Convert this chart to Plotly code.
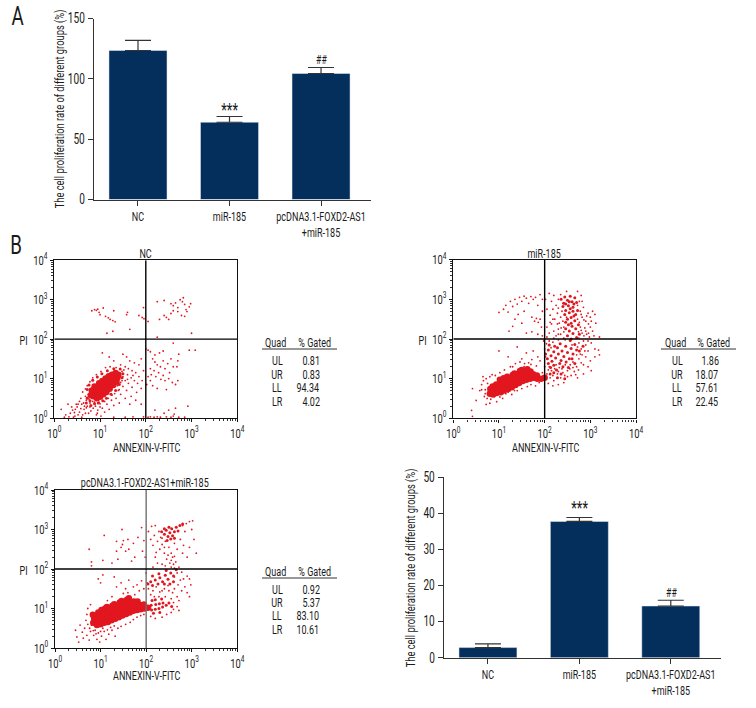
import plotly.graph_objects as go

W, H = 756, 708
NAVY = '#042e5c'
RED = '#e2161f'
FONT = 'Roboto'

GROUPS = ['NC', 'miR-185', 'pcDNA3.1-FOXD2-AS1<br>+miR-185']
PROLIF_A = [123.5, 64, 104.4]
PROLIF_A_ERR = [8.3, 4.8, 5.0]
PROLIF_B = [2.8, 37.7, 14.3]
PROLIF_B_ERR = [1.0, 1.1, 1.6]

TABLE_LABELS = ['UL', 'UR', 'LL', 'LR']
TABLE_NC = ['0.81', '0.83', '94.34', '4.02']
TABLE_MIR = ['1.86', '18.07', '57.61', '22.45']
TABLE_PC = ['0.92', '5.37', '83.10', '10.61']

# flow points, log10 of (annexin, PI), read by eye
# sparse = single dots, mid = loose clouds, core = the solid blobs
NC_SPARSE = [(0.82,2.72),(0.88,2.75),(0.92,2.73),(0.95,2.76),(0.98,2.68),(1.0,2.62),(1.07,2.79),(1.12,2.58),(1.18,2.54),(1.22,2.5),(1.28,2.47),(1.33,2.44),(1.3,2.72),(1.58,2.62),(1.6,2.68),(1.85,2.6),(1.92,2.55),(1.95,2.8),(1.96,2.52),(1.15,2.15),(1.28,2.2),(1.65,2.25),
(2.25,2.95),(2.4,2.98),(2.55,2.9),(2.6,2.85),(2.65,2.92),(2.7,2.8),(2.75,3.0),(2.8,2.95),(2.82,3.05),(2.85,2.88),(2.88,2.75),(2.9,2.7),(2.95,2.82),(2.98,2.9),(2.7,2.7),(2.6,2.72),(2.55,2.65),(2.5,2.5),(2.45,2.55),(2.4,2.6),(2.3,2.5),(2.78,2.6),(2.85,2.58),(3.0,2.15),(2.25,2.05),(2.05,2.45),
(2.0,1.75),(2.05,1.72),(2.1,1.68),(2.2,1.6),(2.3,1.65),(2.38,1.7),(2.6,1.9),(2.95,1.72),(3.08,1.72),(2.72,1.62),(2.7,1.45),(2.68,1.3),(2.15,1.5),(2.2,1.42),(2.25,1.35),(2.32,1.3),(2.38,1.45),(2.42,1.25),(2.48,1.38),(2.52,1.15),(2.55,1.5),(2.6,1.3),(2.1,1.25),(2.12,1.1),(2.18,1.2),(2.22,1.05),(2.28,1.15),(2.33,0.98),(2.38,1.08),(2.42,0.95),(2.5,1.0),(2.58,0.9),(2.65,0.85),(2.1,0.95),(2.15,0.82),(2.25,0.75),(2.45,0.72),(2.7,0.95),(2.05,1.05),(2.02,0.85),
(2.05,0.02),(2.1,0.03),(2.18,0.02),(2.25,0.03),(2.32,0.02),(2.45,0.03),(2.55,0.02),(2.62,0.1),(2.65,0.25),(2.72,0.02),(2.5,0.2),(2.6,0.05),(2.85,0.02),(2.92,0.3),(2.2,0.2),(2.4,0.12),
(1.05,1.65),(1.2,1.55),(1.3,1.45),(1.5,1.62),(1.58,1.55),(1.65,1.45),(1.75,1.4),(1.85,1.35),(1.9,1.5),(1.95,1.2),(1.45,1.35),(1.55,1.3),(1.62,1.25),(1.7,1.2),(1.78,1.15),(1.85,1.05),(1.92,0.95),(1.6,1.1),(1.68,1.02),(1.75,0.95),(1.82,0.88),(1.9,0.75),(1.5,1.05),(1.55,0.95),(1.62,0.88),(1.7,0.78),(1.8,0.65),(1.45,0.9),(1.5,0.8),(1.58,0.7),(1.68,0.55),(1.78,0.45),(1.9,0.35),(1.4,0.7),(1.45,0.6),(1.55,0.5),(1.65,0.35),(1.35,0.5),(1.42,0.38),(1.25,0.45),(1.3,0.32),(1.15,0.35),(1.2,0.22),(1.05,0.25),(1.1,0.15),(0.95,0.2),
(0.15,0.22),(0.3,0.35),(0.35,0.12),(0.4,0.2),(0.45,0.05),(0.5,0.28),(0.55,0.15),(0.6,0.35),(0.62,0.08),(0.65,0.22),(0.7,0.45),(0.72,0.3),(0.75,0.12),(0.78,0.38),(0.82,0.5),(0.85,0.25),(0.88,0.4),(0.92,0.08),(0.55,0.42),(0.48,0.35),(0.42,0.02),(0.32,0.03),(0.25,0.08),(0.22,0.02),(0.6,0.02),(0.68,0.55),(0.74,0.6),(0.8,0.65),(0.86,0.72),(0.58,0.5),(0.98,0.4),(1.02,0.05),(1.3,0.02),(1.55,0.02),(1.72,0.03),(1.95,0.03),
(0.38,0.28),(0.44,0.14),(0.52,0.08),(0.58,0.24),(0.64,0.38),(0.68,0.12),(0.7,0.26),(0.76,0.48),(0.8,0.18),(0.84,0.42),(0.9,0.3),(0.94,0.12),(1.0,0.28),(0.66,0.3),(0.72,0.52),(0.78,0.28),(0.52,0.35),(0.46,0.22),(1.48,1.18),(1.52,1.22),(1.42,1.05),(1.6,0.98),(1.72,1.08),(1.48,0.95),(1.38,0.82),(1.42,0.72),(1.32,0.62),(1.26,0.58),(1.18,0.5),(1.1,0.42),(1.0,0.36),(0.62,0.66),(0.68,0.74),(0.72,0.82),(0.78,0.92),(0.84,1.02),(0.92,1.1),(1.02,1.18),(1.12,1.28),(1.22,1.3),(1.35,1.28)]
NC_MID = [(0.72,0.5),(0.7,0.38),(0.78,0.44),(0.8,0.32),(0.88,0.36),(0.96,0.38),(1.06,0.44),(1.14,0.5),(1.24,0.6),(1.34,0.7),(1.42,0.85),(1.48,1.02),(1.5,1.12),(1.44,1.24),(1.3,1.25),(1.16,1.2),(1.04,1.12),(0.94,1.04),(0.84,0.96),(0.76,0.84),(0.72,0.72)]
NC_CORE = [(0.8,0.58),(0.82,0.7),(0.86,0.55),(0.88,0.8),(0.9,0.66),(0.93,0.5),(0.95,0.6),(0.96,0.76),(0.98,0.88),(1.0,0.54),(1.02,0.66),(1.03,0.82),(1.05,0.94),(1.07,0.6),(1.09,0.72),(1.1,0.88),(1.12,1.0),(1.14,0.66),(1.16,0.78),(1.17,0.94),(1.19,1.06),(1.21,0.74),(1.23,0.86),(1.24,1.0),(1.26,1.1),(1.29,0.84),(1.3,0.96),(1.32,1.06),(1.34,1.14),(1.36,0.92),(1.38,1.02),(1.4,1.1)]

MIR_SPARSE = [(1.0,2.67),(1.1,2.75),(1.15,2.85),(1.2,2.68),(1.25,2.95),(1.3,2.82),(1.35,3.0),(1.4,2.88),(1.45,3.05),(1.5,2.95),(1.55,3.08),(1.6,3.03),(1.65,2.9),(1.7,3.07),(1.75,3.0),(1.8,3.05),(1.85,2.85),(1.9,3.12),(1.95,3.0),(1.42,2.62),(1.35,2.5),(1.3,2.32),(1.22,2.2),(1.5,2.4),(1.55,2.7),(1.72,2.55),(1.78,2.45),(1.82,2.52),(1.86,2.42),(1.9,2.5),(1.93,2.3),(1.95,2.7),(1.6,2.15),(1.72,2.18),(1.85,2.12),(1.95,2.08),
(2.02,3.0),(2.1,3.15),(2.15,2.95),(2.2,3.1),(2.25,2.85),(2.3,3.0),(2.35,3.12),(2.4,2.9),(2.48,3.2),(2.72,3.2),(2.8,3.1),(2.82,2.95),(2.05,2.75),(2.12,2.6),(2.18,2.75),(2.22,2.5),(2.28,2.65),(2.32,2.4),(2.38,2.7),(2.42,2.3),(2.48,2.55),(2.78,2.7),(2.82,2.55),(2.85,2.8),(2.9,2.45),(2.95,2.65),(3.0,2.55),(3.05,2.7),(3.1,2.62),(3.12,2.4),(3.0,2.3),(3.05,2.2),(3.08,2.08),(3.2,2.05),(2.05,2.3),(2.1,2.15),(2.15,2.38),(2.2,2.2),(2.25,2.08),(2.3,2.25),(2.35,2.12),(2.42,2.02),(2.78,2.3),(2.82,2.15),(2.88,2.28),(2.92,2.12),(2.98,2.05),(2.75,2.02),(2.05,2.05),
(2.72,2.5),(2.76,2.42),(2.8,2.62),(2.86,2.48),(2.92,2.58),(2.96,2.38),(3.02,2.45),(2.74,2.18),(2.8,2.22),(2.86,2.08),(2.9,2.2),(2.96,2.15),(2.72,2.85),(2.76,2.95),(2.3,2.78),(2.35,2.55),(2.4,2.45),(2.44,2.6),(2.28,2.38),(2.36,2.28),(2.42,2.18),(2.18,2.5),(2.12,2.42),(2.3,2.12),(2.2,2.02),
(1.98,1.95),(2.0,1.75),(2.02,1.55),(2.0,1.3),(1.85,1.55),(1.75,1.7),(1.6,1.65),(1.5,1.5),(1.4,1.8),(1.0,1.7),(1.2,1.55),(1.3,1.3),(1.55,1.3),(1.65,1.4),(1.72,1.48),(1.82,1.32),(1.9,1.45),(1.95,1.15),(2.75,1.9),(2.8,1.75),(2.9,1.85),(2.95,1.7),(3.02,1.9),(3.1,1.75),(3.18,1.72),(3.2,1.6),(3.1,1.55),(3.0,1.45),(2.9,1.55),(2.85,1.35),(2.95,1.3),(3.02,1.2),(2.75,1.5),(2.7,1.3),(2.62,1.42),(2.55,1.25),(2.45,1.35),(2.4,1.15),(2.32,1.28),(2.25,1.35),(2.15,1.2),(2.1,1.3),(2.05,1.12),(2.12,1.02),(2.2,0.95),(2.28,1.12),(2.35,1.02),(2.42,0.9),(2.5,1.05),(2.58,1.08),(2.65,1.18),(2.72,1.02),(2.85,1.12),(2.3,0.85),(2.18,0.82),(2.08,0.88),
(2.08,1.22),(2.18,1.08),(2.22,1.25),(2.3,1.18),(2.38,1.25),(2.44,1.08),(2.5,1.2),(2.56,1.35),(2.62,1.28),(2.68,1.1),(2.74,1.22),(2.8,1.4),(2.82,1.6),(2.88,1.7),(2.78,1.62),(2.7,1.6),(2.1,1.95),(2.18,1.92),(2.3,1.98),(2.45,1.98),(2.6,1.85),(2.72,1.8),(2.85,1.95),(2.95,1.95),(2.14,1.78),(2.04,1.88),
(0.42,0.75),(0.5,0.45),(0.58,0.7),(0.62,0.85),(0.68,0.55),(0.7,0.72),(0.72,0.35),(0.75,0.88),(0.78,0.62),(0.82,0.48),(0.86,0.72),(0.9,0.55),(0.95,0.42),(1.0,0.62),(1.08,0.5),(0.4,0.2),(0.42,0.05),(0.65,1.05),(0.72,1.0),(0.8,1.05),(0.85,1.1),(1.15,0.62),(1.28,0.6),(1.4,0.7),(1.5,0.75),(1.62,0.8),(1.7,0.85),(1.8,0.82),(1.88,0.9),
(0.66,0.95),(0.62,0.72),(0.7,0.62),(0.74,0.5),(0.8,0.38),(0.92,0.62),(1.02,0.54),(1.2,0.66),(1.34,0.7),(1.46,1.42),(1.56,1.38),(1.7,1.36),(1.36,1.38),(1.25,1.3),(1.12,1.22),(1.02,1.15),(0.92,1.08)]
MIR_MID = [(2.02,1.62),(2.06,1.5),(2.08,1.72),(2.14,1.58),(2.16,1.44),(2.2,1.68),(2.24,1.52),(2.28,1.78),(2.3,1.62),(2.36,1.46),(2.38,1.7),(2.42,1.56),(2.46,1.82),(2.5,1.66),(2.54,1.5),(2.58,1.76),(2.62,1.62),(2.66,1.86),(2.7,1.72),(2.08,1.38),(2.13,1.28),(2.2,1.34),(2.26,1.22),(2.33,1.38),(2.4,1.3),(2.47,1.42),(2.52,1.28),(2.6,1.5),(2.66,1.38),(2.12,1.12),(2.2,1.15),(2.28,1.02),(2.36,1.12),(2.44,1.0),(2.1,1.85),(2.22,1.82),(2.34,1.88),(2.56,1.96),(2.76,1.7),(2.84,1.82),
(2.36,3.0),(2.42,2.9),(2.44,3.06),(2.5,2.98),(2.52,2.84),(2.56,3.08),(2.6,2.94),(2.62,2.8),(2.66,3.04),(2.7,2.92),(2.46,2.72),(2.54,2.66),(2.62,2.7),(2.68,2.62),(2.5,2.5),(2.58,2.54),(2.66,2.46),(2.52,2.36),(2.6,2.32),(2.68,2.26),(2.54,2.2),(2.62,2.14),(2.5,2.08),(2.7,2.04),(2.58,2.0),(2.46,2.88),(2.54,2.94),(2.64,2.88),(2.44,2.62),(2.72,2.72),(2.46,2.42),(2.74,2.36),(2.46,2.26),(2.76,2.12),(2.4,2.82),(2.58,2.4),(2.56,2.76),(2.64,2.58)]
MIR_CORE = [(0.8,0.62),(0.81,0.74),(0.87,0.6),(0.89,0.7),(0.86,0.8),(0.95,0.64),(0.97,0.75),(0.94,0.85),(1.04,0.66),(1.03,0.77),(1.05,0.87),(1.02,0.97),(1.11,0.7),(1.13,0.8),(1.12,0.9),(1.1,1.01),(1.2,0.74),(1.19,0.84),(1.21,0.95),(1.18,1.05),(1.28,0.78),(1.29,0.88),(1.27,0.99),(1.3,1.09),(1.36,0.84),(1.35,0.93),(1.37,1.03),(1.34,1.13),(1.44,0.89),(1.45,0.98),(1.43,1.09),(1.46,1.19),(1.52,0.94),(1.51,1.03),(1.53,1.13),(1.5,1.22),(1.6,0.97),(1.61,1.06),(1.59,1.16),(1.62,1.24),(1.68,1.0),(1.67,1.09),(1.69,1.18),(1.76,1.02),(1.75,1.11),(1.84,1.0),(1.83,1.08),(1.92,1.0),(2.0,1.02)]

PC_SPARSE = [(0.75,2.5),(0.8,2.18),(0.8,2.08),(1.05,2.22),(1.08,2.85),(1.25,2.15),(1.35,2.45),(1.38,2.25),(1.35,2.7),(1.45,2.55),(1.48,2.62),(1.5,2.72),(1.47,3.0),(1.55,2.45),(1.62,2.5),(1.6,2.75),(1.72,2.65),(1.75,2.3),(1.68,2.2),(1.82,2.8),(1.9,3.05),(1.92,2.45),(1.95,2.72),(1.98,2.3),
(2.05,2.95),(2.1,2.75),(2.12,3.08),(2.15,2.6),(2.18,2.85),(2.2,3.1),(2.25,2.7),(2.28,2.95),(2.3,2.5),(2.32,2.8),(2.35,2.62),(2.4,2.4),(2.42,2.7),(2.45,2.25),(2.5,2.55),(2.52,2.15),(2.55,2.4),(2.58,2.3),(2.62,2.65),(2.65,2.18),(2.68,2.5),(2.72,2.05),(2.75,2.75),(2.8,2.4),(2.82,2.6),(2.9,2.3),(2.95,2.55),(3.05,2.75),(3.1,2.4),(3.0,3.0),(2.95,3.2),(2.88,3.15),(3.02,3.22),(2.85,2.95),(2.8,3.1),(2.2,2.3),(2.15,2.05),(2.35,2.12),(2.25,2.15),(2.42,2.08),(2.55,2.05),(2.62,2.02),(2.6,2.12),(2.55,2.22),(2.62,2.32),(2.48,2.35),(2.4,2.55),(2.35,2.78),(2.22,2.42),
(2.0,1.9),(2.02,1.65),(2.05,1.5),(2.1,1.35),(2.15,1.45),(2.22,1.55),(2.28,1.3),(2.35,1.45),(2.42,1.3),(2.5,1.45),(2.55,1.25),(2.62,1.5),(2.68,1.3),(2.72,1.2),(2.78,1.45),(2.85,1.55),(2.9,1.4),(2.95,1.3),(2.98,1.6),(2.82,1.75),(2.9,1.82),(2.78,1.92),(2.68,1.9),(2.95,1.75),(2.6,1.15),(2.68,1.05),(2.72,0.95),(2.55,0.9),(2.45,0.85),(2.6,0.98),(2.35,0.78),(2.2,0.75),(2.1,0.8),(2.18,1.3),(2.3,1.42),(2.4,1.5),(2.48,1.58),(2.58,1.4),(2.7,1.6),(2.75,1.72),(2.62,1.8),
(1.0,1.65),(0.95,1.75),(1.05,1.85),(1.3,1.8),(1.35,1.55),(1.45,1.65),(1.55,1.5),(1.62,1.72),(1.72,1.55),(1.8,1.6),(1.85,1.45),(1.9,1.7),(1.95,1.5),(1.5,1.38),(1.6,1.4),(1.25,1.3),(1.15,1.2),(1.75,1.35),
(0.45,0.45),(0.48,0.28),(0.52,0.15),(0.55,0.58),(0.6,0.4),(0.62,0.25),(0.65,0.5),(0.68,0.7),(0.7,0.32),(0.75,0.2),(0.78,0.42),(0.8,0.58),(0.85,0.32),(0.88,0.45),(0.92,0.22),(0.95,0.38),(0.98,0.15),(1.02,0.3),(1.08,0.42),(1.12,0.22),(1.18,0.35),(1.25,0.45),(1.32,0.3),(1.38,0.5),(1.45,0.55),(1.55,0.6),(1.65,0.65),(1.72,0.72),(1.8,0.78),(1.88,0.82),(1.95,0.85),(0.72,1.0),(0.78,1.1),(0.7,0.85),(0.72,0.6),(0.76,0.5),(0.84,0.44),(0.9,0.36),(1.0,0.42),(1.05,0.5),(1.15,0.46),(1.22,0.52),(1.3,0.56)]
PC_MID = [(2.04,1.62),(2.1,1.68),(2.14,1.58),(2.2,1.72),(2.26,1.62),(2.3,1.78),(2.36,1.68),(2.42,1.84),(2.48,1.74),(2.54,1.9),(2.6,1.82),(2.66,1.98),(2.14,1.82),(2.28,1.88),(2.4,1.62),(2.52,1.62),(2.6,1.68),(2.44,1.96),
(2.12,0.96),(2.11,1.08),(2.13,1.2),(2.2,0.98),(2.21,1.1),(2.28,1.0),(2.29,1.12),(2.36,1.04),(2.37,1.14),(2.44,1.08),(2.5,1.14),(2.56,1.05),(2.2,1.22),(2.34,1.24),(2.16,0.88),(2.3,0.9),
(2.4,2.88),(2.44,2.98),(2.48,2.82),(2.52,2.92),(2.56,3.02),(2.58,2.84),(2.62,2.94),(2.66,3.06),(2.7,2.96),(2.74,3.1),(2.8,3.14),(2.54,2.76),(2.46,2.72),(2.62,2.78),(2.34,2.94),(2.4,3.02),(2.5,3.06)]
PC_CORE = [(0.84,0.64),(0.86,0.74),(0.83,0.84),(0.92,0.58),(0.94,0.68),(0.91,0.8),(0.95,0.9),(1.0,0.6),(1.01,0.71),(0.99,0.85),(1.02,0.96),(1.08,0.64),(1.09,0.75),(1.07,0.89),(1.1,1.0),(1.16,0.66),(1.15,0.78),(1.17,0.92),(1.14,1.04),(1.24,0.7),(1.25,0.81),(1.23,0.95),(1.26,1.07),(1.32,0.74),(1.31,0.85),(1.33,0.99),(1.3,1.11),(1.4,0.78),(1.41,0.89),(1.39,1.03),(1.42,1.15),(1.48,0.82),(1.47,0.93),(1.49,1.07),(1.46,1.19),(1.56,0.86),(1.57,0.97),(1.55,1.11),(1.58,1.22),(1.64,0.9),(1.63,1.01),(1.65,1.15),(1.62,1.26),(1.72,0.94),(1.71,1.05),(1.73,1.18),(1.8,0.96),(1.79,1.07),(1.81,1.18),(1.88,0.98),(1.87,1.09),(1.96,1.0),(1.95,1.1),(2.04,1.02)]


def px(x):
    return x / W


def py(y):
    return 1 - y / H


def note(fig, x, y, text, size=12.5, anchor='center', angle=0):
    fig.add_annotation(xref='paper', yref='paper', x=px(x), y=py(y), text=text,
                       showarrow=False, xanchor=anchor, yanchor='middle', textangle=angle,
                       font=dict(size=size, color='#1a1a1a', family=FONT))


def add_bars(fig, n, values, errs, xdom, ydom, ymax, ydtick):
    suffix = str(n)
    fig.add_trace(go.Bar(x=GROUPS, y=values, width=0.634, marker_color=NAVY,
                         error_y=dict(type='data', array=errs, arrayminus=[0, 0, 0], symmetric=False,
                                      color='#333333', thickness=1.2, width=13),
                         xaxis='x' + suffix, yaxis='y' + suffix, showlegend=False))
    fig.update_layout({
        'xaxis' + suffix: dict(domain=[px(xdom[0]), px(xdom[1])], anchor='y' + suffix, range=[-0.484, 2.546],
                               type='category', categoryorder='array', categoryarray=GROUPS, automargin=False,
                               showline=True, linecolor='#333333', linewidth=1.2, showgrid=False,
                               ticks='outside', ticklen=5, tickwidth=1, tickcolor='#333333',
                               tickfont=dict(size=12.5, family=FONT, color='#1a1a1a')),
        'yaxis' + suffix: dict(domain=[py(ydom[1]), py(ydom[0])], anchor='x' + suffix, range=[0, ymax], automargin=False,
                               dtick=ydtick, showline=True, linecolor='#333333', linewidth=1.2,
                               showgrid=False, zeroline=False, ticks='outside', ticklen=5, tickwidth=1,
                               tickcolor='#333333', tickfont=dict(size=14, family=FONT, color='#1a1a1a')),
    })


def add_flow(fig, n, sparse, mid, core, xdom, ydom, vline_color='black'):
    suffix = str(n)
    for pts, size in ((sparse, 1.8), (mid, 3), (core, 6.5)):
        fig.add_trace(go.Scatter(x=[10 ** p[0] for p in pts], y=[10 ** p[1] for p in pts], mode='markers',
                                 marker=dict(size=size, color=RED, line_width=0),
                                 xaxis='x' + suffix, yaxis='y' + suffix, showlegend=False))
    ticktext = ['10<sup>%d</sup>' % i for i in range(5)]
    tickvals = [10 ** i for i in range(5)]
    common = dict(type='log', range=[0, 4], tickvals=tickvals, ticktext=ticktext, showgrid=False, zeroline=False,
                  showline=True, mirror=True, linecolor='#111111', linewidth=1.4, ticks='outside', ticklen=3,
                  tickwidth=1, tickcolor='#111111', automargin=False,
                  tickfont=dict(size=13, family=FONT, color='#1a1a1a'),
                  minor=dict(ticks='outside', ticklen=2, tickwidth=0.8, tickcolor='#333333', showgrid=False,
                             tickvals=[m * 10 ** d for d in range(4) for m in range(2, 10)]))
    fig.update_layout({
        'xaxis' + suffix: dict(domain=[px(xdom[0]), px(xdom[1])], anchor='y' + suffix, **common),
        'yaxis' + suffix: dict(domain=[py(ydom[1]), py(ydom[0])], anchor='x' + suffix, **common),
    })
    fig.add_shape(type='line', xref='x' + suffix, yref='y' + suffix, x0=100, x1=100, y0=1, y1=10000,
                  line=dict(color=vline_color, width=1.4))
    fig.add_shape(type='line', xref='x' + suffix, yref='y' + suffix, x0=1, x1=10000, y0=100, y1=100,
                  line=dict(color='black', width=1.4))


def add_table(fig, values, x0, x1, head_y, label_x, value_x, head_x2, row_ys):
    note(fig, label_x - 2, head_y, 'Quad')
    note(fig, head_x2, head_y, '% Gated')
    fig.add_shape(type='line', xref='paper', yref='paper', x0=px(x0), x1=px(x1), y0=py(head_y + 7), y1=py(head_y + 7),
                  line=dict(color='#333333', width=1))
    for label, val, y in zip(TABLE_LABELS, values, row_ys):
        note(fig, label_x, y, label)
        note(fig, value_x, y, val, anchor='right')


fig = go.Figure()

add_bars(fig, 1, PROLIF_A, PROLIF_A_ERR, (93.7, 371), (18.5, 199.5), 150, 50)
add_bars(fig, 2, PROLIF_B, PROLIF_B_ERR, (443.7, 720.7), (477, 657.7), 50, 10)

add_flow(fig, 3, NC_SPARSE, NC_MID, NC_CORE, (54.3, 237.3), (260.3, 418))
add_flow(fig, 4, MIR_SPARSE, MIR_MID, MIR_CORE, (453.3, 636), (259.7, 418.3))
add_flow(fig, 5, PC_SPARSE, PC_MID, PC_CORE, (55, 237.3), (490, 648), vline_color='#707070')

note(fig, 17, 16, 'A', 26)
note(fig, 16, 245, 'B', 26)
note(fig, 59, 109, 'The cell proliferation rate of different groups (%)', 13, angle=-90)
note(fig, 410, 568, 'The cell proliferation rate of different groups (%)', 13, angle=-90)
note(fig, 230, 109, '***', 18)
note(fig, 321, 60, '##', 12)
note(fig, 580, 507, '***', 18)
note(fig, 671, 593, '##', 12)

note(fig, 145, 253, 'NC')
note(fig, 544, 253, 'miR-185')
note(fig, 145, 482, 'pcDNA3.1-FOXD2-AS1+miR-185')
note(fig, 146, 447, 'ANNEXIN-V-FITC')
note(fig, 545, 447, 'ANNEXIN-V-FITC')
note(fig, 146, 675, 'ANNEXIN-V-FITC')
note(fig, 23, 340, 'PI')
note(fig, 422, 340, 'PI')
note(fig, 23, 570, 'PI')

add_table(fig, TABLE_NC, 262, 337, 342, 277, 325, 314, [360, 374, 387, 401])
add_table(fig, TABLE_MIR, 661, 736, 342, 677, 724, 713, [360, 374, 387, 401])
add_table(fig, TABLE_PC, 262, 337, 571, 277, 325, 314, [589, 602, 615, 629])

fig.update_layout(width=W, height=H, margin=dict(l=0, r=0, t=0, b=0), plot_bgcolor='white',
                  paper_bgcolor='white', font=dict(family=FONT))

# no condensed font installed, so squeeze the glyphs of each text line
CONDENSE = """
document.body.style.margin = '0';
document.querySelectorAll('.main-svg text').forEach(function (t) {
    var lines = t.querySelectorAll('tspan.line');
    (lines.length ? lines : [t]).forEach(function (el) {
        var len = el.getComputedTextLength();
        if (len > 0) {
            el.setAttribute('textLength', len * 0.72);
            el.setAttribute('lengthAdjust', 'spacingAndGlyphs');
        }
    });
});
"""
fig.write_html("out.html", post_script=CONDENSE, config=dict(displayModeBar=False))
